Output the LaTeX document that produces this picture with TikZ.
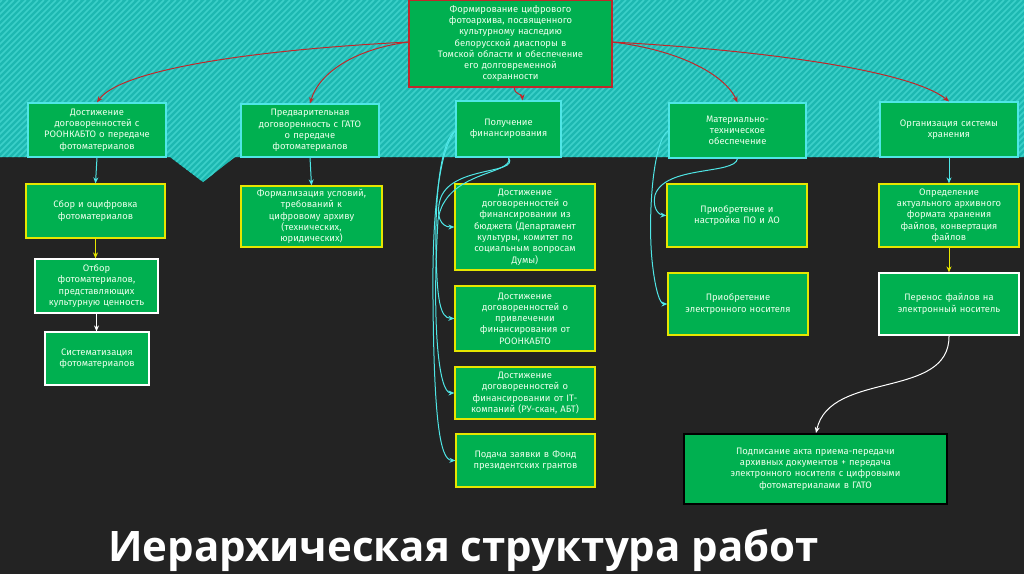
\documentclass[tikz,border=0pt]{standalone}
\usepackage{fontspec}
\setmainfont{Fira Sans}
\newfontfamily\titlefont{Open Sans}
\definecolor{bg}{HTML}{232323}
\definecolor{teal1}{HTML}{1DB8B1}
\definecolor{teal2}{HTML}{3CD0C9}
\definecolor{gfill}{HTML}{00B050}
\definecolor{cyanb}{HTML}{4FE6E6}
\definecolor{yelb}{HTML}{E6E600}
\definecolor{redb}{HTML}{C0282A}
\tikzset{
 bx/.style={draw, line width=1.2pt, fill=gfill, text=white!92!green, align=center, inner sep=2pt,
   font=\fontsize{9.4}{11.3}\selectfont},
 cb/.style={bx, draw=cyanb},
 yb/.style={bx, draw=yelb},
 wb/.style={bx, draw=white},
 rarr/.style={draw=redb, line width=1pt, -{Stealth[length=6pt,width=5pt]}},
 carr/.style={draw=cyanb, line width=1pt, -{Stealth[length=6pt,width=5pt]}},
 yarr/.style={draw=yelb, line width=1pt, -{Stealth[length=6pt,width=5pt]}},
 warr/.style={draw=white, line width=1pt, -{Stealth[length=6pt,width=5pt]}},
}
\usetikzlibrary{arrows.meta}
\begin{document}
\begin{tikzpicture}[x=1pt,y=-1pt]
\useasboundingbox (0,0) rectangle (1024,574);
\fill[bg] (0,0) rectangle (1024,574);
\begin{scope}
\clip (0,0) -- (1024,0) -- (1024,157) -- (235,157) -- (203,182) -- (170,157) -- (0,157) -- cycle;
\fill[teal1] (0,0) rectangle (1024,190);
\foreach \i in {-200,-194,...,1040} \draw[teal2, line width=1.6pt] (\i,190) -- (\i+190,0);
\end{scope}
% boxes
\node[bx, draw=redb, minimum width=203pt, minimum height=87pt, text width=198pt] (R) at (510.5,43.5) {Формирование цифрового\\фотоархива, посвященного\\культурному наследию\\белорусской диаспоры в\\Томской области и обеспечение\\его долговременной\\сохранности};
\node[cb, minimum width=138pt, minimum height=54pt, text width=134pt] (A) at (97,130) {Достижение\\договоренностей с\\РООНКАБТО о передаче\\фотоматериалов};
\node[cb, minimum width=138pt, minimum height=53pt, text width=134pt] (B) at (310,130.5) {Предварительная\\договоренность с ГАТО\\о передаче\\фотоматериалов};
\node[cb, minimum width=105pt, minimum height=56pt, text width=100pt] (C) at (508.5,129) {Получение\\финансирования};
\node[cb, minimum width=137pt, minimum height=55pt, text width=130pt] (D) at (737.5,130.5) {Материально-\\техническое\\обеспечение};
\node[cb, minimum width=138pt, minimum height=55pt, text width=134pt] (E) at (949,129.5) {Организация системы\\хранения};
\node[yb, minimum width=139pt, minimum height=54pt, text width=134pt] (A1) at (95.5,211) {Сбор и оцифровка\\фотоматериалов};
\node[wb, minimum width=123pt, minimum height=54pt, text width=119pt] (A2) at (96.5,286) {Отбор\\фотоматериалов,\\представляющих\\культурную ценность};
\node[wb, minimum width=104pt, minimum height=53pt, text width=100pt] (A3) at (97,358.5) {Систематизация\\фотоматериалов};
\node[yb, minimum width=141pt, minimum height=61pt, text width=136pt] (B1) at (311.5,216.5) {Формализация условий,\\требований к\\цифровому архиву\\(технических,\\юридических)};
\node[yb, minimum width=140pt, minimum height=86pt, text width=136pt] (C1) at (525,227) {Достижение\\договоренностей о\\финансировании из\\бюджета (Департамент\\культуры, комитет по\\социальным вопросам\\Думы)};
\node[yb, minimum width=140pt, minimum height=65pt, text width=136pt] (C2) at (525,318.5) {Достижение\\договоренностей о\\привлечении\\финансирования от\\РООНКАБТО};
\node[yb, minimum width=140pt, minimum height=52pt, text width=136pt] (C3) at (525,393) {Достижение\\договоренностей о\\финансировании от IT-\\компаний (РУ-скан, АБТ)};
\node[yb, minimum width=139pt, minimum height=53pt, text width=135pt] (C4) at (525.5,460.5) {Подача заявки в Фонд\\президентских грантов};
\node[yb, minimum width=140pt, minimum height=63pt, text width=136pt] (D1) at (737,215.5) {Приобретение и\\настройка ПО и АО};
\node[yb, minimum width=140pt, minimum height=62pt, text width=136pt] (D2) at (738,304) {Приобретение\\электронного носителя};
\node[yb, minimum width=140pt, minimum height=63pt, text width=136pt] (E1) at (949,215.5) {Определение\\актуального архивного\\формата хранения\\файлов, конвертация\\файлов};
\node[wb, minimum width=140pt, minimum height=62pt, text width=136pt] (E2) at (949,304) {Перенос файлов на\\электронный носитель};
\node[bx, draw=black, minimum width=263pt, minimum height=70pt, text width=258pt] (F) at (815.5,469) {Подписание акта приема-передачи\\архивных документов + передача\\электронного носителя с цифровыми\\фотоматериалами в ГАТО};
\node[text=white, font=\titlefont\bfseries\fontsize{42}{44}\selectfont, anchor=base west, inner sep=0pt] (T) at (108,561) {Иерархическая структура работ};
% red arrows
\coordinate (rl) at (409,42);
\coordinate (rr) at (612,42);
\coordinate (rb) at (514,87);
\draw[rarr] (rl) .. controls (250,50) and (120,70) .. (A.north);
\draw[rarr] (rl) .. controls (360,48) and (320,70) .. (B.north);
\draw[rarr] (rb) .. controls (515,96) and (522,93) .. ([xshift=14pt]C.north);
\draw[rarr] (rr) .. controls (680,50) and (725,75) .. (D.north);
\draw[rarr] (rr) .. controls (760,50) and (910,70) .. (E.north);
% cyan
\draw[carr] (A.south) -- (A1.north);
\draw[carr] (B.south) -- (B1.north);
\draw[carr] (E.south) -- (E1.north);
\coordinate (cw) at (456,130);
\coordinate (dw) at (669,130);
\draw[carr] (C.south) .. controls (520,175) and (450,165) .. (440,200) .. controls (436,215) and (440,227) .. (C1.west);
\draw[carr] (cw) .. controls (440,140) and (435,200) .. (436,250) .. controls (437,300) and (440,318) .. (C2.west);
\draw[carr] (C.south) .. controls (515,175) and (445,170) .. (438,220) .. controls (432,320) and (438,393) .. (C3.west);
\draw[carr] (cw) .. controls (438,150) and (432,220) .. (433,300) .. controls (434,420) and (440,460) .. (C4.west);
\draw[carr] (D.south) .. controls (735,175) and (665,165) .. (655,195) .. controls (652,210) and (660,215) .. (D1.west);
\draw[carr] (dw) .. controls (652,140) and (648,220) .. (652,260) .. controls (655,290) and (660,304) .. (D2.west);
% yellow/white
\draw[yarr] (A1.south) -- (A1.south |- A2.north);
\draw[warr] (A2.south) -- (A2.south |- A3.north);
\draw[yarr] (E1.south) -- (E2.north);
\draw[warr] (E2.south) .. controls (950,400) and (830,370) .. (816,433);
\end{tikzpicture}
\end{document}
